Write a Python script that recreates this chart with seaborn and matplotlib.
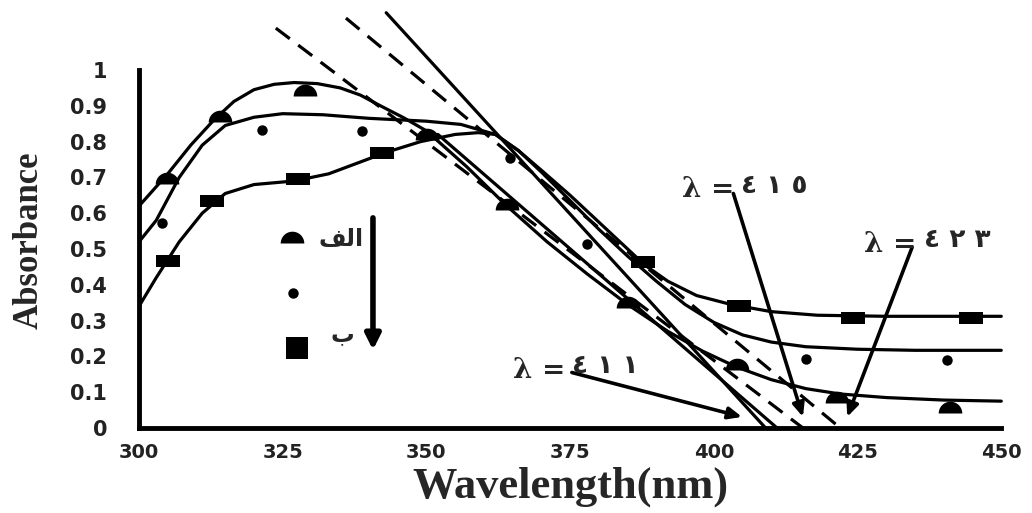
import numpy as np
import pandas as pd
import matplotlib
matplotlib.use("Agg")
import matplotlib.pyplot as plt
import seaborn as sns
from matplotlib.markers import MarkerStyle

# ---------------- data ----------------
pts_a_x = [304.9, 314.1, 328.9, 350.1, 364.0, 385.1, 404.1, 421.5, 441.1]
pts_a_y = [0.682, 0.855, 0.927, 0.804, 0.609, 0.335, 0.162, 0.070, 0.042]
pts_b_x = [304.0, 321.4, 338.8, 364.6, 378.0, 416.1, 440.6]
pts_b_y = [0.573, 0.832, 0.830, 0.754, 0.514, 0.193, 0.190]
pts_c_x = [305.0, 312.7, 327.7, 342.3, 387.7, 404.4, 424.2, 444.8]
pts_c_y = [0.466, 0.634, 0.696, 0.768, 0.464, 0.341, 0.307, 0.307]

curve_a_x = [300, 302.5, 305, 309, 313, 316.5, 320, 323.5, 327, 331, 335, 338.5,
             342, 346, 350, 357, 364, 371, 378, 385, 392, 398, 404, 410, 416,
             422, 430, 440, 450]
curve_a_y = [0.62, 0.665, 0.71, 0.79, 0.86, 0.912, 0.945, 0.96, 0.965, 0.962,
             0.95, 0.93, 0.90, 0.867, 0.83, 0.73, 0.62, 0.52, 0.43, 0.345, 0.27,
             0.215, 0.17, 0.135, 0.11, 0.095, 0.085, 0.078, 0.075]
curve_b_x = [300, 303, 307, 311, 315, 320, 325, 332, 340, 350, 356, 362, 366,
             370, 375, 380, 385, 390, 395, 400, 405, 410, 416, 425, 435, 450]
curve_b_y = [0.52, 0.58, 0.70, 0.79, 0.845, 0.868, 0.878, 0.875, 0.865, 0.857,
             0.848, 0.82, 0.775, 0.715, 0.635, 0.555, 0.48, 0.41, 0.345, 0.295,
             0.26, 0.24, 0.227, 0.22, 0.217, 0.217]
curve_c_x = [300, 303, 307, 311, 315, 320, 327, 333, 338, 343, 349, 355, 359,
             362, 366, 370, 375, 380, 385, 388, 392, 397, 403, 410, 418, 430, 450]
curve_c_y = [0.34, 0.42, 0.52, 0.60, 0.655, 0.68, 0.69, 0.71, 0.74, 0.77, 0.80,
             0.82, 0.825, 0.82, 0.775, 0.72, 0.65, 0.575, 0.50, 0.455, 0.41, 0.37,
             0.345, 0.325, 0.315, 0.312, 0.312]

tangent_x = [[323.8, 415.5], [336.0, 422.0], [343.0, 409.0], [352.0, 411.0]]
tangent_y = [[1.117, 0.0], [1.145, 0.0], [1.16, 0.0], [0.82, 0.0]]
tangent_dashed = [True, True, False, False]

lambda_digits = ["٤ ١ ٥", "٤ ٢ ٣", "٤ ١ ١"]
lambda_split_x = [403.8, 435.5, 374.4]
lambda_text_y = [0.665, 0.512, 0.160]
lambda_arrow_from = [(403.4, 0.655), (434.5, 0.505), (375.3, 0.155)]
lambda_arrow_to = [(415.5, 0.031), (423.2, 0.031), (404.9, 0.031)]

legend_labels = ["\uFED2\uFEDF\uFE8D", "\uFE8F"]  # "الف", "ب" in presentation forms
xticks = [300, 325, 350, 375, 400, 425, 450]
yticks = [0, 0.1, 0.2, 0.3, 0.4, 0.5, 0.6, 0.7, 0.8, 0.9, 1]
ytick_labels = ["0", "0.1", "0.2", "0.3", "0.4", "0.5", "0.6", "0.7", "0.8", "0.9", "1"]

# ---------------- markers ----------------
t = np.linspace(0, np.pi, 40)
half_circle = MarkerStyle(list(zip(np.cos(t), np.sin(t))))
rect = MarkerStyle([(-1, -0.5), (1, -0.5), (1, 0.5), (-1, 0.5)])

sns.set_style("white")
plt.rcParams["font.family"] = ["DejaVu Sans"]

fig = plt.figure(figsize=(10.32, 5.13), dpi=100)
ax = fig.add_axes([139 / 1032, 85 / 513, (1030 - 139) / 1032, 428 / 513])

LW = 2.3
for cx, cy in [(curve_a_x, curve_a_y), (curve_b_x, curve_b_y), (curve_c_x, curve_c_y)]:
    sns.lineplot(x=cx, y=cy, ax=ax, color="black", linewidth=LW, sort=True,
                 estimator=None)

for tx, ty, dsh in zip(tangent_x, tangent_y, tangent_dashed):
    if dsh:
        sns.lineplot(x=tx, y=ty, ax=ax, color="black", linewidth=LW,
                     linestyle=(0, (5.5, 3.3)), estimator=None)
    else:
        sns.lineplot(x=tx, y=ty, ax=ax, color="black", linewidth=LW, estimator=None)

sns.scatterplot(x=pts_a_x, y=pts_a_y, ax=ax, marker=half_circle, s=17 ** 2,
                color="black", linewidth=0, zorder=5)
sns.scatterplot(x=pts_b_x, y=pts_b_y, ax=ax, marker="o", s=7.5 ** 2,
                color="black", linewidth=0, zorder=5)
sns.scatterplot(x=pts_c_x, y=pts_c_y, ax=ax, marker=rect, s=17 ** 2,
                color="black", linewidth=0, zorder=5)

# legend-like key
sns.scatterplot(x=[326.6], y=[0.517], ax=ax, marker=half_circle, s=17 ** 2,
                color="black", linewidth=0, zorder=5)
sns.scatterplot(x=[326.8], y=[0.377], ax=ax, marker="o", s=7.5 ** 2,
                color="black", linewidth=0, zorder=5)
sns.scatterplot(x=[327.5], y=[0.223], ax=ax, marker="s", s=16 ** 2,
                color="black", linewidth=0, zorder=5)
ax.text(335.1, 0.528, legend_labels[0], fontsize=17, fontweight="bold",
        ha="center", va="center", family=["DejaVu Sans"])
ax.text(335.3, 0.262, legend_labels[1], fontsize=17, fontweight="bold",
        ha="center", va="center", family=["DejaVu Sans"])
ax.annotate("", xy=(340.7, 0.218), xytext=(340.7, 0.587),
            arrowprops=dict(arrowstyle="-|>,head_length=0.9,head_width=0.45",
                            lw=4, color="black", shrinkA=0, shrinkB=0))

for dig, sx, ly, af, at in zip(lambda_digits, lambda_split_x, lambda_text_y,
                               lambda_arrow_from, lambda_arrow_to):
    ax.annotate("", xy=at, xytext=af,
                arrowprops=dict(arrowstyle="-|>,head_length=0.8,head_width=0.35",
                                lw=2.6, color="black", shrinkA=0, shrinkB=0))
    ax.text(sx - 0.2, ly, "λ =", fontsize=20, fontweight="bold", ha="right",
            va="center", family="DejaVu Serif", zorder=6)
    ax.text(sx + 1.0, ly + 0.012, dig, fontsize=19, fontweight="bold", ha="left",
            va="center", family="DejaVu Sans", zorder=6)

ax.set_xlim(300, 455)
ax.set_ylim(0, 428 / 358)
ax.spines["top"].set_visible(False)
ax.spines["right"].set_visible(False)
for s in ["left", "bottom"]:
    ax.spines[s].set_linewidth(3.5)
    ax.spines[s].set_color("black")
ax.spines["left"].set_bounds(0, 1)
ax.spines["bottom"].set_bounds(300, 450)
ax.set_xticks(xticks)
ax.set_yticks(yticks)
ax.set_yticklabels(ytick_labels)
ax.tick_params(axis="x", direction="out", length=4, width=3, pad=7,
               labelsize=14, labelcolor="#222222")
ax.tick_params(axis="y", length=0, pad=23, labelsize=15, labelcolor="#222222")
for lbl in ax.get_xticklabels() + ax.get_yticklabels():
    lbl.set_fontweight("bold")

ax.set_xlabel("Wavelength(nm)", fontsize=32, fontweight="bold",
              family="Liberation Serif")
ax.set_ylabel("Absorbance", fontsize=25, fontweight="bold",
              family="Liberation Serif")
ax.xaxis.set_label_coords((570 - 139) / 891, (428 - 487) / 428)
ax.yaxis.set_label_coords((29 - 139) / 891, (428 - 240) / 428)
ax.xaxis.label.set_va("center")
ax.yaxis.label.set_va("center")

fig.savefig("out.png", dpi=100)
